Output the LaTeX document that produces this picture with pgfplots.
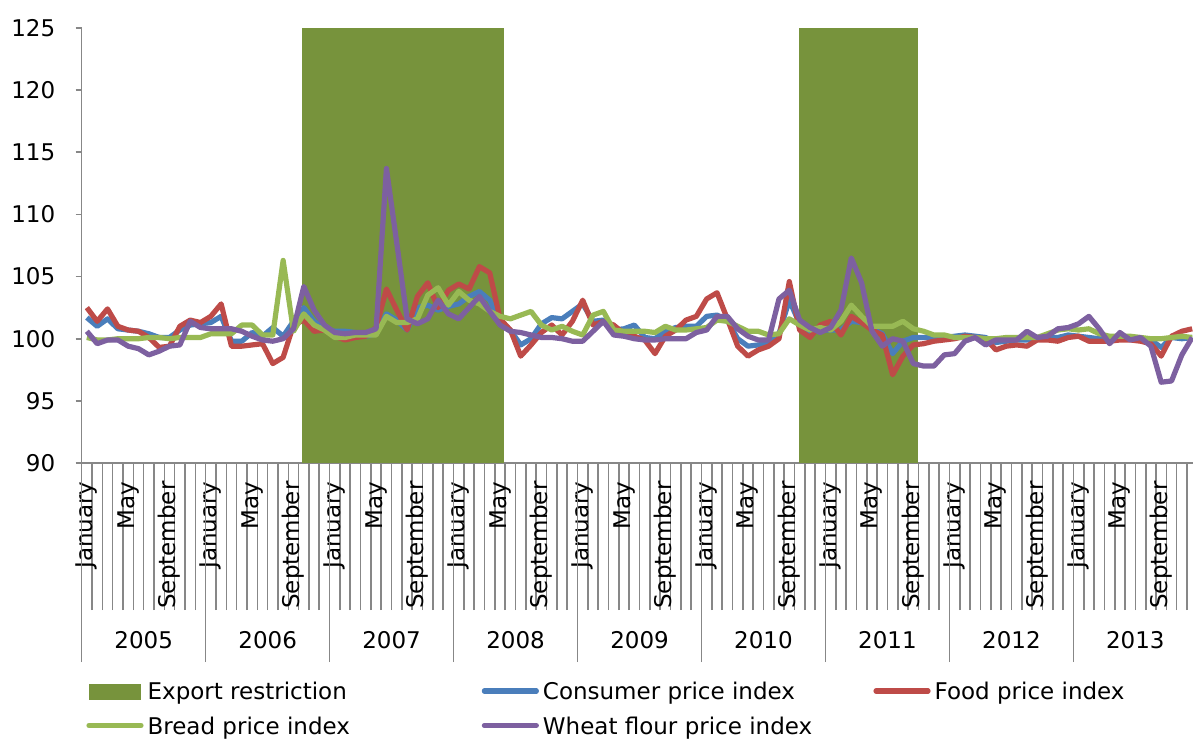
\documentclass[border=0pt]{standalone}
\usepackage{pgfplots}
\usepackage{pgfplotstable}
\pgfplotsset{compat=1.18}
\usepackage{fontspec}
\setmainfont{DejaVu Sans}
\definecolor{cpi}{HTML}{4A7EBB}
\definecolor{food}{HTML}{BE4B48}
\definecolor{bread}{HTML}{98B954}
\definecolor{wheat}{HTML}{7D60A0}
\definecolor{exportc}{HTML}{77933C}
\definecolor{axisgray}{HTML}{878787}
\newcommand\cf{\fontsize{11.5pt}{13.8pt}\selectfont}

\pgfplotstableread{
m cpi food bread wheat
0 101.7 102.5 100.1 100.6
1 101.0 101.4 99.9 99.6
2 101.6 102.4 99.9 99.9
3 100.8 101.0 100.0 99.9
4 100.7 100.7 100.0 99.4
5 100.6 100.6 100.0 99.2
6 100.4 100.1 100.1 98.7
7 100.1 99.3 100.1 99.0
8 100.1 99.4 100.0 99.4
9 100.7 101.0 100.1 99.5
10 101.1 101.5 100.1 101.4
11 101.2 101.3 100.1 100.9
12 101.3 101.8 100.4 100.8
13 101.8 102.8 100.4 100.8
14 99.8 99.4 100.4 100.8
15 99.8 99.4 101.1 100.6
16 100.5 99.5 101.1 100.2
17 100.2 99.6 100.3 99.9
18 100.9 98.0 100.3 99.8
19 100.2 98.5 106.3 100.0
20 101.4 101.1 100.6 100.8
21 102.5 101.5 102.0 104.2
22 101.4 100.6 101.1 102.3
23 100.8 100.7 100.7 101.1
24 100.6 100.2 100.1 100.5
25 100.6 99.9 100.1 100.4
26 100.5 100.1 100.3 100.5
27 100.2 100.2 100.3 100.5
28 100.4 100.9 100.3 100.8
29 102.0 104.0 101.8 113.7
30 101.5 102.3 101.3 107.7
31 100.7 100.7 101.3 101.6
32 102.5 103.4 101.6 101.2
33 102.7 104.5 103.5 101.6
34 102.3 102.5 104.1 103.1
35 102.6 103.9 102.7 102.0
36 102.8 104.4 103.8 101.6
37 103.4 104.0 103.1 102.5
38 103.8 105.8 102.8 103.4
39 103.1 105.3 102.2 102.2
40 101.3 101.6 101.8 101.1
41 100.7 100.7 101.6 100.6
42 99.5 98.6 101.9 100.5
43 100.0 99.5 102.2 100.3
44 101.2 100.5 101.1 100.1
45 101.7 101.1 100.7 100.1
46 101.6 100.3 101.0 100.0
47 102.2 101.4 100.6 99.8
48 102.8 103.1 100.3 99.8
49 101.4 101.1 101.9 100.6
50 101.5 101.4 102.2 101.4
51 100.7 101.1 100.7 100.3
52 100.8 100.4 100.6 100.2
53 101.1 100.2 100.6 100.0
54 100.1 99.9 100.6 99.9
55 100.0 98.8 100.5 99.9
56 100.6 100.2 101.0 100.0
57 100.9 100.7 100.7 100.0
58 101.0 101.5 100.7 100.0
59 101.0 101.8 100.8 100.5
60 101.8 103.2 100.9 100.7
61 101.9 103.7 101.5 101.8
62 101.5 101.6 101.4 101.8
63 100.0 99.4 101.0 100.8
64 99.4 98.6 100.6 100.2
65 99.5 99.1 100.6 99.9
66 99.6 99.4 100.3 99.9
67 100.4 100.0 100.4 103.2
68 103.1 104.6 101.6 103.9
69 101.2 100.7 101.1 101.5
70 100.6 100.1 100.7 100.9
71 100.7 101.1 100.9 100.5
72 100.7 101.4 100.7 100.9
73 100.7 100.3 101.4 102.3
74 101.4 101.8 102.7 106.5
75 101.3 101.3 101.8 104.5
76 100.8 100.7 101.0 100.6
77 100.4 100.3 101.0 99.4
78 98.8 97.1 101.0 100.0
79 99.8 98.6 101.4 99.8
80 100.1 99.5 100.8 98.0
81 100.1 99.6 100.6 97.8
82 100.1 99.8 100.3 97.8
83 100.1 99.9 100.3 98.7
84 100.2 100.0 100.1 98.8
85 100.3 100.2 100.1 99.8
86 100.2 100.1 100.1 100.1
87 100.1 100.0 100.0 99.5
88 99.7 99.1 100.0 99.9
89 99.8 99.4 100.1 99.9
90 99.9 99.5 100.1 99.9
91 99.9 99.4 100.1 100.6
92 100.1 99.9 100.1 100.1
93 100.1 99.9 100.4 100.2
94 100.1 99.8 100.7 100.8
95 100.3 100.1 100.8 100.9
96 100.2 100.2 100.7 101.2
97 100.1 99.8 100.8 101.8
98 100.0 99.8 100.4 100.8
99 100.0 99.8 100.2 99.6
100 100.0 99.9 100.2 100.5
101 100.0 99.9 100.2 99.9
102 100.0 99.8 100.1 100.1
103 99.9 99.6 100.0 99.4
104 99.3 98.6 100.0 96.5
105 100.1 100.2 100.1 96.6
106 100.0 100.6 100.2 98.7
107 100.1 100.8 100.1 100.1
}\datatable

\begin{document}
\begin{tikzpicture}
\path[use as bounding box] (-40.85pt,-138.5pt) rectangle (555.65pt,231.5pt);
\begin{axis}[
  at={(0pt,0pt)}, anchor=south west,
  scale only axis, width=555.65pt, height=217.5pt,
  xmin=-0.5, xmax=107.08, ymin=90, ymax=125,
  clip mode=individual,
  axis lines*=left,
  axis line style={draw=axisgray, line width=0.8pt, -},
  /pgf/number format/assume math mode=true,
  ytick={90,95,...,125},
  yticklabel style={font=\cf},
  yticklabel shift=6.7pt,
  tick align=outside,
  major tick length=3pt,
  minor tick length=73.5pt,
  tick style={draw=axisgray, line width=0.8pt},
  every major x tick/.append style={draw=none},
  xtick={0,4,...,104},
  xticklabels={January,May,September,January,May,September,January,May,September,
    January,May,September,January,May,September,January,May,September,
    January,May,September,January,May,September,January,May,September},
  xticklabel style={font=\cf, rotate=90, anchor=east},
  xticklabel shift=2.7pt,
  minor xtick={0.5,1.5,...,106.5},
  extra x ticks={-0.5,11.5,...,95.5},
  extra x tick labels={},
  extra x tick style={major tick length=99.5pt, every major x tick/.append style={draw=axisgray, line width=0.8pt}},
  legend columns=3,
  legend cell align=left,
  legend image code/.code={\draw[#1, line cap=round] (0pt,0.8pt) -- (26pt,0.8pt);},
  legend style={at={(axis description cs:0,0)}, anchor=north west,
    xshift=2.15pt, yshift=-108pt, draw=none, fill=none, inner sep=0pt,
    font=\cf, row sep=4pt,
    nodes={inner xsep=2pt, inner ysep=1.5pt},
    /tikz/column 2/.style={column sep=63.9pt},
    /tikz/column 4/.style={column sep=28.6pt}},
]
\addplot[fill=exportc, draw=none, area legend,
  legend image code/.code={\fill[exportc] (0pt,-3.5pt) rectangle (26pt,4.5pt);}]
  coordinates {(20.8,90) (20.8,125) (40.35,125) (40.35,90)} -- cycle;
\addplot[fill=exportc, draw=none, forget plot]
  coordinates {(68.95,90) (68.95,125) (80.5,125) (80.5,90)} -- cycle;
\addplot[cpi, line width=2.6pt, line join=round] table[x=m, y=cpi] {\datatable};
\addplot[food, line width=2.6pt, line join=round] table[x=m, y=food] {\datatable};
\addplot[bread, line width=2.6pt, line join=round] table[x=m, y=bread] {\datatable};
\addplot[wheat, line width=2.6pt, line join=round] table[x=m, y=wheat] {\datatable};
\legend{Export restriction, Consumer price index, Food price index, Bread price index, Wheat flour price index}
\node[font=\cf] at (axis cs:5.5,90) [yshift=-88.5pt] {2005};
\node[font=\cf] at (axis cs:17.5,90) [yshift=-88.5pt] {2006};
\node[font=\cf] at (axis cs:29.5,90) [yshift=-88.5pt] {2007};
\node[font=\cf] at (axis cs:41.5,90) [yshift=-88.5pt] {2008};
\node[font=\cf] at (axis cs:53.5,90) [yshift=-88.5pt] {2009};
\node[font=\cf] at (axis cs:65.5,90) [yshift=-88.5pt] {2010};
\node[font=\cf] at (axis cs:77.5,90) [yshift=-88.5pt] {2011};
\node[font=\cf] at (axis cs:89.5,90) [yshift=-88.5pt] {2012};
\node[font=\cf] at (axis cs:101.5,90) [yshift=-88.5pt] {2013};
\end{axis}
\end{tikzpicture}
\end{document}
